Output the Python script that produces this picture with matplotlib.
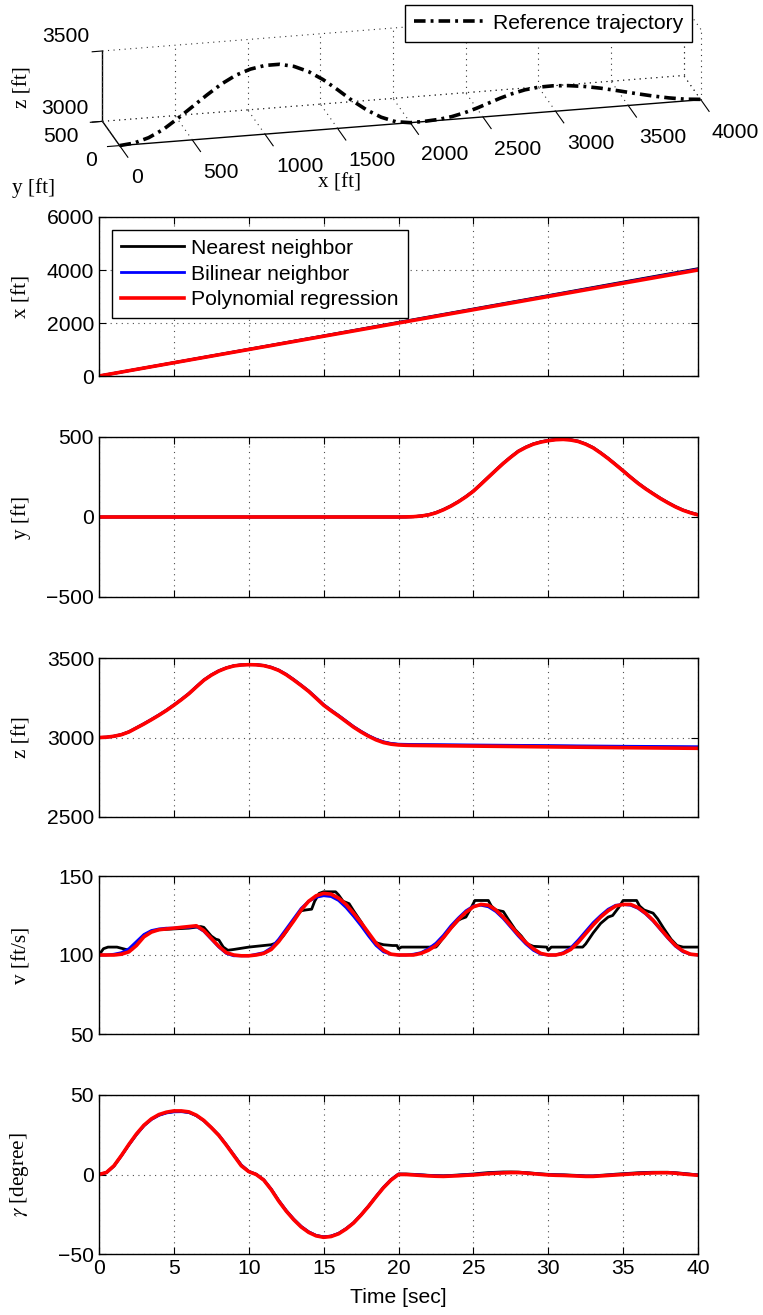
import matplotlib
matplotlib.use("Agg")
import matplotlib.pyplot as plt
import numpy as np

plt.rcParams['font.family'] = ['Liberation Sans', 'DejaVu Sans']
plt.rcParams['mathtext.fontset'] = 'stix'

FS = 15.2
SERIF = ['Liberation Serif', 'DejaVu Serif']

# ---------------- data ----------------
series_names = ["Nearest neighbor", "Bilinear neighbor", "Polynomial regression"]
series_colors = ["black", "blue", "red"]

# reference trajectory (3-D)
ref_x = [0, 100, 200, 300, 400, 500, 600, 700, 800, 900, 1000, 1100, 1200, 1300, 1400,
         1500, 1600, 1700, 1800, 1900, 2000, 2100, 2200, 2300, 2400, 2500, 2600, 2700,
         2800, 2900, 3000, 3100, 3200, 3300, 3400, 3500, 3600, 3700, 3800, 3900, 4000]
ref_y = [0, 0, 0, 0, 0, 0, 0, 0, 0, 0, 0, 0, 0, 0, 0, 0, 0, 0, 0, 0, 0,
         4, 20, 55, 110, 180, 260, 340, 410, 465, 495, 500, 480, 440, 380, 305,
         225, 150, 85, 35, 8]
ref_z = [3000, 3010, 3040, 3090, 3160, 3235, 3310, 3380, 3435, 3470, 3488, 3488, 3465,
         3420, 3355, 3275, 3190, 3115, 3055, 3015, 3000, 3000, 3000, 3000, 3000, 3000,
         3000, 3000, 3000, 3000, 3000, 3000, 3000, 3000, 3000, 3000, 3000, 3000, 3000,
         3000, 3000]
x3_ticks = [0, 500, 1000, 1500, 2000, 2500, 3000, 3500, 4000]
y3_ticks = [0, 500]
z3_ticks = [3000, 3500]

# x position
t_x = [0, 5, 10, 15, 20, 25, 30, 35, 40]
x_nn = [0, 505, 1010, 1515, 2025, 2530, 3035, 3545, 4050]
x_bl = [0, 502, 1004, 1507, 2012, 2515, 3020, 3525, 4030]
x_pr = [0, 500, 1000, 1500, 2000, 2500, 3000, 3500, 4000]

# y position
t_y = [0, 20, 20.5, 21, 21.5, 22, 22.5, 23, 23.5, 24, 24.5, 25, 25.5, 26, 26.5, 27,
       27.5, 28, 28.5, 29, 29.5, 30, 30.5, 31, 31.5, 32, 32.5, 33, 33.5, 34, 34.5, 35,
       35.5, 36, 36.5, 37, 37.5, 38, 38.5, 39, 39.5, 40]
y_pr = [0, 0, 0.5, 2, 6, 13, 26, 45, 68, 95, 126, 161, 204, 248, 292, 335, 374, 410,
        435, 455, 468, 477, 483, 485, 481, 472, 455, 432, 400, 365, 327, 288, 248, 210,
        176, 145, 115, 88, 63, 42, 26, 13]
y_bl = [0, 0, 0.5, 2, 6, 14, 27, 46, 69, 96, 127, 162, 205, 249, 293, 336, 375, 411,
        436, 456, 469, 478, 484, 486, 482, 473, 456, 433, 401, 366, 328, 289, 249, 211,
        177, 146, 116, 89, 64, 43, 27, 14]
y_nn = [0, 0, 0.5, 2, 7, 14, 28, 47, 70, 97, 128, 163, 206, 250, 294, 337, 376, 412,
        437, 457, 470, 479, 485, 487, 483, 474, 457, 434, 402, 367, 329, 290, 250, 212,
        178, 147, 117, 90, 65, 44, 28, 15]

# z position
t_z = [0, 0.5, 1, 1.5, 2, 2.5, 3, 3.5, 4, 4.5, 5, 5.5, 6, 6.5, 7, 7.5, 8, 8.5, 9, 9.5,
       10, 10.5, 11, 11.5, 12, 12.5, 13, 13.5, 14, 14.5, 15, 15.5, 16, 16.5, 17, 17.5,
       18, 18.5, 19, 19.5, 20, 20.5, 21, 25, 30, 35, 40]
z_pr = [3000, 3002, 3008, 3018, 3035, 3060, 3085, 3112, 3140, 3170, 3203, 3238, 3275,
        3318, 3360, 3392, 3418, 3437, 3450, 3456, 3458, 3457, 3452, 3440, 3422, 3395,
        3362, 3327, 3290, 3247, 3203, 3168, 3135, 3100, 3065, 3035, 3008, 2985, 2968,
        2958, 2953, 2951, 2950, 2946, 2941, 2936, 2932]
z_bl = [3000, 3002, 3008, 3019, 3036, 3061, 3087, 3114, 3142, 3172, 3205, 3240, 3277,
        3320, 3362, 3394, 3420, 3438, 3451, 3457, 3459, 3458, 3453, 3442, 3424, 3398,
        3365, 3330, 3293, 3251, 3207, 3172, 3139, 3104, 3069, 3039, 3012, 2990, 2973,
        2963, 2958, 2957, 2956, 2953, 2949, 2945, 2942]
z_nn = [3000, 3002, 3008, 3018, 3036, 3061, 3086, 3113, 3141, 3171, 3204, 3239, 3276,
        3319, 3361, 3393, 3419, 3438, 3451, 3457, 3459, 3458, 3453, 3441, 3423, 3396,
        3364, 3328, 3292, 3249, 3205, 3170, 3137, 3102, 3067, 3037, 3010, 2988, 2971,
        2961, 2956, 2954, 2953, 2950, 2946, 2941, 2938]

# speed v (0.5 s steps for the smooth curves)
t_h = [i * 0.5 for i in range(81)]
v_pr = [100, 100, 100, 100.5, 102, 106, 111.5, 114.5, 116, 116.5, 117, 117.5, 118, 118.5,
        115.5, 110.5, 105.5, 101.5, 100, 99.5, 99.5, 100, 101, 103.5, 108.5, 115, 121.5,
        128.5, 134, 137.5, 139, 138.5, 136, 132, 126.5, 120.5, 114, 107.5, 103, 100.5,
        100, 100, 100, 101, 103, 106, 111, 117, 122.5, 127, 130.5, 132, 131.5, 128.5, 124,
        118.5, 113, 108, 104, 101, 100, 100, 101, 103.5, 108, 113.5, 119, 124, 128, 131,
        132, 132, 130, 126.5, 122, 116.5, 111, 106, 102.5, 100.5, 100]
v_bl = [100, 100, 100.5, 101.5, 104, 108.5, 113, 115.5, 116.5, 117, 117, 117.5, 117.5, 118,
        115, 110, 105, 101, 99.5, 99.5, 99.5, 100.5, 101.5, 104.5, 110, 116.5, 123, 129.5,
        134, 136.5, 137.5, 137, 134.5, 130, 124.5, 118.5, 112, 106, 102, 100.5, 100, 100,
        100.5, 101.5, 104, 107.5, 112.5, 118.5, 123.5, 128, 131, 131.5, 130.5, 127.5, 123,
        117.5, 112, 107, 103, 100.5, 100, 100, 101.5, 104.5, 109.5, 115, 120.5, 125, 129,
        131.5, 132, 131.5, 129.5, 126, 121.5, 116, 110.5, 105.5, 102, 100.5, 100]
t_vnn = [0, 0.3, 0.6, 1.2, 1.8, 2.2, 2.5, 3, 3.5, 4, 5, 6, 6.8, 7.0, 7.5, 7.8, 8.0, 8.3,
         8.6, 9, 10, 11, 11.5, 11.8, 12.0, 12.3, 12.6, 13, 13.3, 13.5, 13.8, 14.2, 14.4,
         14.7, 15.0, 15.8, 16.0, 16.3, 16.7, 17.0, 17.5, 18.0, 18.3, 18.6, 19.0, 19.6,
         19.9, 20.0, 20.2, 21, 22.5, 22.6, 23, 23.5, 24, 24.2, 24.5, 24.8, 25.1, 26.0,
         26.2, 26.5, 27, 27.3, 27.8, 28.2, 28.6, 29, 29.9, 30.0, 30.2, 32.3, 32.5, 33,
         33.5, 34, 34.3, 34.7, 35.0, 35.9, 36.1, 36.4, 37, 37.3, 37.7, 38.2, 38.6, 39, 40]
v_nn = [100, 104, 105, 105, 103.5, 103.5, 107, 112.5, 115, 116, 116.5, 117, 118, 117.5,
        112, 110, 109.5, 105, 103, 103.5, 105, 106, 106.5, 107.5, 109, 112, 116, 122, 126,
        128, 128.5, 129, 134, 139, 140, 140, 138, 134, 132.5, 128, 121, 113, 109, 107.5,
        106.5, 106, 106, 104, 105, 105, 105, 106, 111, 117, 122, 123, 124, 129, 134.5,
        134.5, 131, 128.5, 127.5, 123, 116, 112, 107, 105.5, 105, 103, 105, 105, 107,
        114, 120, 124, 125, 130, 134.5, 134.5, 131, 128.5, 126.5, 123, 117, 110, 106,
        105, 105]

# flight path angle gamma (0.5 s steps)
g_pr = [0, 1.3, 5.5, 12, 19, 25.5, 31, 35, 37.7, 39.2, 40, 40, 39.4, 37.3, 34, 29.5, 24.6,
        18.5, 12, 5.5, 1.8, 0, -3.5, -9.5, -16.7, -23, -28.4, -33, -36.4, -38.6, -39.5,
        -39, -37.3, -34.3, -30.5, -25.5, -20, -14, -8.3, -3.5, 0, 0, -0.3, -0.6, -0.9,
        -1.1, -1.2, -1.0, -0.8, -0.5, -0.3, 0.1, 0.5, 0.8, 1, 1.2, 1.2, 0.9, 0.5, 0.1,
        -0.3, -0.5, -0.6, -0.8, -1, -1.2, -1.2, -0.9, -0.6, -0.3, 0, 0.3, 0.6, 0.8, 1,
        1.1, 1.1, 0.8, 0.3, -0.1, -0.5]
g_bl = [0, 1.2, 5.3, 11.8, 18.7, 25.1, 30.6, 34.6, 37.2, 38.7, 39.4, 39.5, 39.0, 37.0,
        33.8, 29.4, 24.8, 18.8, 12.4, 6.0, 2.0, 0.1, -3.3, -9.2, -16.3, -22.6, -28.0,
        -32.6, -36.0, -38.3, -39.2, -38.7, -37.0, -34.0, -30.3, -25.3, -19.8, -13.8, -8.0,
        -3.2, 0.2, 0.1, 0, -0.3, -0.6, -0.8, -1.0, -0.8, -0.5, -0.2, 0, 0.4, 0.8, 1.0,
        1.2, 1.3, 1.3, 1.0, 0.6, 0.2, -0.1, -0.3, -0.4, -0.6, -0.8, -1.0, -1.0, -0.7, -0.4,
        -0.1, 0.2, 0.5, 0.8, 1.0, 1.2, 1.2, 1.2, 0.9, 0.5, 0.1, -0.3]
g_nn = [0, 1.2, 5.4, 11.9, 18.8, 25.2, 30.8, 34.8, 37.4, 38.9, 39.6, 39.7, 39.1, 37.1,
        33.9, 29.5, 24.7, 18.7, 12.2, 5.8, 1.9, 0.1, -3.4, -9.3, -16.5, -22.8, -28.2,
        -32.8, -36.2, -38.4, -39.3, -38.8, -37.1, -34.1, -30.4, -25.4, -19.9, -13.9, -8.1,
        -3.3, 0.3, 0.3, 0.1, -0.2, -0.5, -0.7, -0.8, -0.6, -0.3, 0, 0.3, 0.8, 1.2, 1.4,
        1.6, 1.6, 1.5, 1.2, 0.8, 0.4, 0.1, -0.1, -0.2, -0.4, -0.6, -0.9, -0.9, -0.5, -0.2,
        0.2, 0.5, 0.8, 1.1, 1.3, 1.4, 1.4, 1.4, 1.1, 0.7, 0.2, -0.2]

# ---------------- figure ----------------
fig = plt.figure(figsize=(7.63, 13.15), dpi=100)
W_px, H_px = 763.0, 1315.0


def rect(l, t, r, b):
    return [l / W_px, 1 - b / H_px, (r - l) / W_px, (b - t) / H_px]


def ftext(x, y, s, **kw):
    fig.text(x / W_px, 1 - y / H_px, s, **kw)


# --- 3-D reference trajectory ---
side = 640
cx, cy = 393, 84
ax3 = fig.add_axes(rect(cx - side / 2, cy - side / 2, cx + side / 2, cy + side / 2),
                   projection='3d')
ax3.patch.set_visible(False)
ax3.set_proj_type('ortho')
ax3.view_init(elev=19.5, azim=-103.3)
ax3.set_box_aspect((8, 1, 1), zoom=0.92)
ax3.grid(False)
x0, x1 = 0, 4000
y0, y1 = 0, 500
z0, z1 = 3000, 3500
gkw = dict(color='0.2', lw=0.8, linestyle=(0, (1, 4)))
for xv in x3_ticks:
    ax3.plot([xv, xv], [y1, y1], [z0, z1], **gkw)
    ax3.plot([xv, xv], [y0, y1], [z0, z0], **gkw)
for yv in y3_ticks:
    ax3.plot([x1, x1], [yv, yv], [z0, z1], **gkw)
    if yv != y0:
        ax3.plot([x0, x1], [yv, yv], [z0, z0], **gkw)
for zv in z3_ticks:
    ax3.plot([x0, x1], [y1, y1], [zv, zv], **gkw)
    ax3.plot([x1, x1], [y0, y1], [zv, zv], **gkw)

ref_line, = ax3.plot(ref_x, ref_y, ref_z, color='black',
                     linestyle=(0, (3.2, 1.4, 0.8, 1.4)), lw=2.6,
                     label='Reference trajectory')
ax3.set_xlim(x0, x1)
ax3.set_ylim(y0, y1)
ax3.set_zlim(z0, z1)
ax3.set_xticks(x3_ticks)
ax3.set_yticks(y3_ticks)
ax3.set_zticks(z3_ticks)
ax3.set_xticklabels([])
ax3.set_yticklabels([])
ax3.set_zticklabels([])
for axis, fac in ((ax3.xaxis, 6.0), (ax3.yaxis, 0.26), (ax3.zaxis, 0.22)):
    axis.set_pane_color((1, 1, 1, 0))
    axis.pane.set_edgecolor((1, 1, 1, 0))
    axis.line.set_linewidth(1.0)
    axis._axinfo['tick']['outward_factor'] = 0.0
    axis._axinfo['tick']['inward_factor'] = fac
for xv in x3_ticks:
    ax3.text(xv, -324, 2882, str(xv), fontsize=FS, ha='left', va='center')

ftext(89, 37, '3500', fontsize=FS, ha='right', va='center')
ftext(89, 108, '3000', fontsize=FS, ha='right', va='center')
ftext(79, 137, '500', fontsize=FS, ha='right', va='center')
ftext(97, 161, '0', fontsize=FS, ha='right', va='center')
ftext(34, 188, 'y [ft]', fontsize=FS, family=SERIF, ha='center', va='center')
ftext(340, 183, 'x [ft]', fontsize=FS, family=SERIF, ha='center', va='center')
ftext(23, 87, 'z [ft]', fontsize=FS, family=SERIF, ha='center', va='center',
      rotation=90)

fig.legend(handles=[ref_line], loc='upper right',
           bbox_to_anchor=(692 / W_px, 1 - 5 / H_px), fontsize=FS,
           fancybox=False, edgecolor='black', framealpha=1, handlelength=3.3,
           borderpad=0.42, handletextpad=0.45, borderaxespad=0)

# --- 2-D panels ---
rows = [
    ("x [ft]", [t_x] * 3, [x_nn, x_bl, x_pr], (0, 6000), [0, 2000, 4000, 6000], (217, 376)),
    ("y [ft]", [t_y] * 3, [y_nn, y_bl, y_pr], (-500, 500), [-500, 0, 500], (437, 597)),
    ("z [ft]", [t_z] * 3, [z_nn, z_bl, z_pr], (2500, 3500), [2500, 3000, 3500], (658, 817)),
    ("v [ft/s]", [t_vnn, t_h, t_h], [v_nn, v_bl, v_pr], (50, 150), [50, 100, 150],
     (876, 1034)),
    (r"$\gamma$ [degree]", [t_h] * 3, [g_nn, g_bl, g_pr], (-50, 50), [-50, 0, 50],
     (1095, 1254)),
]

axes2d = []
for i, (lab, tts, ser, ylim, yt, (top, bot)) in enumerate(rows):
    ax = fig.add_axes(rect(99, top, 698, bot))
    for j, (tx, vals, c) in enumerate(zip(tts, ser, series_colors)):
        ax.plot(tx, vals, color=c, lw=2.6 if c == 'red' else 2.0,
                label=series_names[j], solid_joinstyle='round')
    ax.set_xlim(0, 40)
    ax.set_ylim(*ylim)
    ax.set_yticks(yt)
    ax.set_xticks(np.arange(0, 41, 5))
    ax.tick_params(direction='in', top=True, right=True, labelsize=FS, length=5,
                   width=0.8)
    ax.grid(True, linestyle=(0, (1, 4)), color='0.3', lw=0.8)
    for s in ax.spines.values():
        s.set_linewidth(1.0)
    ax.set_ylabel(lab, family=SERIF, fontsize=FS)
    ax.yaxis.set_label_coords(-0.113, 0.5)
    if i < len(rows) - 1:
        ax.set_xticklabels([])
    else:
        ax.set_xlabel('Time [sec]', fontsize=FS, labelpad=7)
    axes2d.append(ax)

axes2d[0].legend(loc='upper left', fontsize=FS, fancybox=False, edgecolor='black',
                 framealpha=1, handlelength=3.0, borderpad=0.42, handletextpad=0.35,
                 labelspacing=0.33, borderaxespad=0.6)

fig.savefig('out.png', dpi=100)
